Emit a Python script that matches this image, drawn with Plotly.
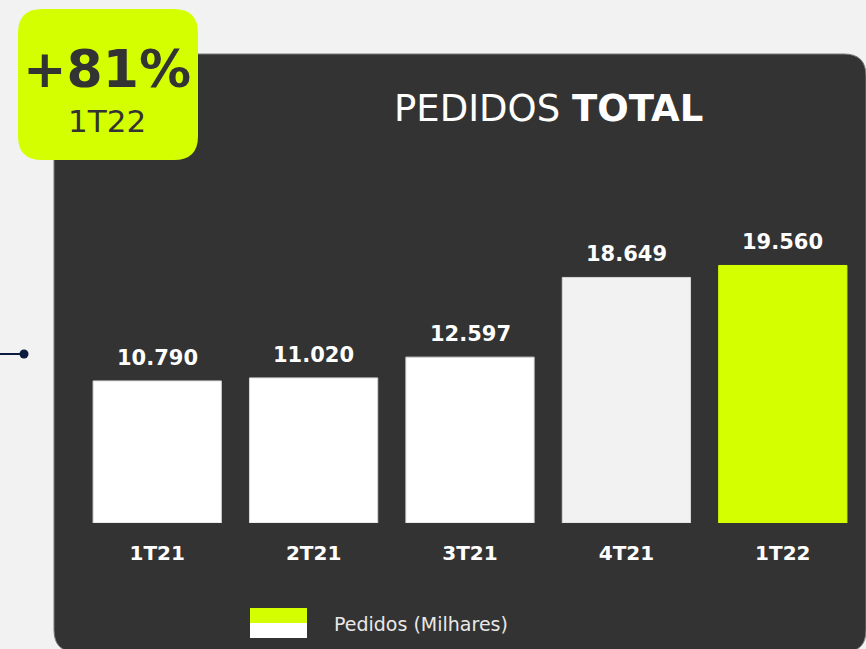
import plotly.graph_objects as go

# dados (pedidos por trimestre)
categorias = ["1T21", "2T21", "3T21", "4T21", "1T22"]
pedidos = [10790, 11020, 12597, 18649, 19560]
crescimento = "+81%"
periodo_destaque = "1T22"
legenda_texto = "Pedidos (Milhares)"

LIME = "#d4ff00"
PANEL = "#333333"
BG = "#f2f2f2"
FONT = "Verdana, DejaVu Sans, sans-serif"
bar_colors = ["#ffffff", "#ffffff", "#ffffff", "#f2f2f2", LIME]
bar_lines = ["#d6d6d6", "#d6d6d6", "#d6d6d6", "#d6d6d6", LIME]

W, H = 866, 649
L, R, T, B = 79, 5, 207, 126
PW, PH = W - L - R, H - T - B


def px(x):
    return (x - L) / PW


def py(y):
    return (H - B - y) / PH


def rounded_rect(x0, y0, x1, y1, r):
    rx, ry = r / PW, r / PH
    a0, a1 = px(x0), px(x1)
    b0, b1 = py(y0), py(y1)  # b0 top, b1 bottom
    return (f"M {a0 + rx},{b0} L {a1 - rx},{b0} Q {a1},{b0} {a1},{b0 - ry} "
            f"L {a1},{b1 + ry} Q {a1},{b1} {a1 - rx},{b1} "
            f"L {a0 + rx},{b1} Q {a0},{b1} {a0},{b1 + ry} "
            f"L {a0},{b0 - ry} Q {a0},{b0} {a0 + rx},{b0} Z")


def fmt(v):
    return f"{v:,}".replace(",", ".")


fig = go.Figure()
fig.add_trace(go.Bar(
    x=categorias,
    y=pedidos,
    marker=dict(color=bar_colors, line=dict(color=bar_lines, width=1)),
    showlegend=False,
    hoverinfo="skip",
))

shapes = [
    # painel escuro
    dict(type="path", xref="paper", yref="paper",
         path=rounded_rect(54, 54, 866, 652, 22),
         fillcolor=PANEL, line=dict(color="#7a7a7a", width=1), layer="below"),
    # selo de crescimento
    dict(type="path", xref="paper", yref="paper",
         path=rounded_rect(18, 9, 198, 160, 24),
         fillcolor=LIME, line=dict(width=0), layer="below"),
    # linha com ponto à esquerda
    dict(type="line", xref="paper", yref="paper",
         x0=px(0), x1=px(24), y0=py(354), y1=py(354),
         line=dict(color="#0d1b3e", width=2)),
    dict(type="circle", xref="paper", yref="paper",
         x0=px(19.5), x1=px(28.5), y0=py(349.5), y1=py(358.5),
         fillcolor="#0d1b3e", line=dict(width=0)),
    # amostra da legenda
    dict(type="rect", xref="paper", yref="paper",
         x0=px(250), x1=px(307), y0=py(608), y1=py(623),
         fillcolor=LIME, line=dict(width=0)),
    dict(type="rect", xref="paper", yref="paper",
         x0=px(250), x1=px(307), y0=py(623), y1=py(638),
         fillcolor="#ffffff", line=dict(width=0)),
]

annotations = [
    dict(text=f"<b>{crescimento}</b>", xref="paper", yref="paper", x=px(107), y=py(69),
         showarrow=False, font=dict(family=FONT, size=52, color="#333333"),
         xanchor="center", yanchor="middle"),
    dict(text=periodo_destaque, xref="paper", yref="paper", x=px(107), y=py(121),
         showarrow=False, font=dict(family=FONT, size=31, color="#333333"),
         xanchor="center", yanchor="middle"),
    dict(text="PEDIDOS <b>TOTAL</b>", xref="paper", yref="paper", x=px(548), y=py(109),
         showarrow=False, font=dict(family=FONT, size=37, color="#ffffff"),
         xanchor="center", yanchor="middle"),
    dict(text=legenda_texto, xref="paper", yref="paper", x=px(332), y=py(624),
         showarrow=False, font=dict(family=FONT, size=19, color="#e8e8e8"),
         xanchor="left", yanchor="middle"),
]
for cat, val in zip(categorias, pedidos):
    annotations.append(dict(
        text=f"<b>{fmt(val)}</b>", x=cat, y=val, xref="x", yref="y",
        showarrow=False, yanchor="bottom", yshift=9,
        font=dict(family=FONT, size=21, color="#ffffff"),
    ))

fig.update_layout(
    width=W, height=H,
    margin=dict(l=L, r=R, t=T, b=B),
    paper_bgcolor=BG,
    plot_bgcolor="rgba(0,0,0,0)",
    bargap=0.18,
    shapes=shapes,
    annotations=annotations,
    font=dict(family=FONT),
    xaxis=dict(
        showgrid=False, zeroline=False, showline=False, ticks="",
        tickfont=dict(family=FONT, size=20, color="#ffffff", weight="bold"),
        ticklabelstandoff=16, fixedrange=True,
    ),
    yaxis=dict(
        range=[0, 24000], visible=False, showgrid=False, zeroline=False,
        fixedrange=True,
    ),
)

fig.write_html("out.html", config={"displayModeBar": False},
               post_script="document.body.style.margin='0';")
